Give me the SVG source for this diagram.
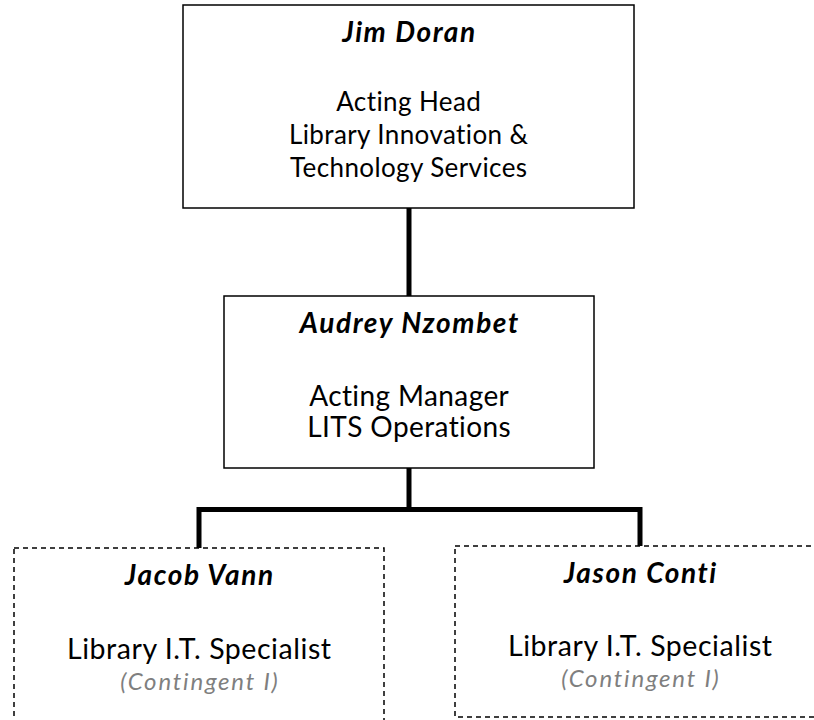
<svg xmlns="http://www.w3.org/2000/svg" width="814" height="720" viewBox="0 0 814 720">
<style>
.box{fill:#fff;stroke:#000;stroke-width:1.5}
.dash{fill:#fff;stroke:#000;stroke-width:1.5;stroke-dasharray:5 4}
.conn{fill:none;stroke:#000;stroke-width:5;stroke-linejoin:miter}
text{font-family:Lato,"Open Sans","Liberation Sans",sans-serif;text-anchor:middle;fill:#000}
.name{font-weight:bold;font-style:italic;font-size:28px;letter-spacing:1.6px}
.t1{font-size:26px;letter-spacing:0.4px}
.t2{font-size:28px;letter-spacing:0.4px}
.t3{font-size:28.5px;letter-spacing:0.55px}
.sub{font-style:italic;fill:#7f7f7f;font-size:24px;letter-spacing:1.8px}
</style>
<rect width="814" height="720" fill="#fff"/>
<g id="connectors">
<line class="conn" x1="409" y1="208" x2="409" y2="296"/>
<polyline class="conn" points="199,548 199,509.5 640,509.5 640,546"/>
<line class="conn" x1="409" y1="468" x2="409" y2="509"/>
</g>
<g id="jim-doran">
<rect class="box" x="183" y="5" width="451" height="203"/>
<text class="name" x="409.5" y="42">Jim Doran</text>
<text class="t1" x="408.7" y="111">Acting Head</text>
<text class="t1" x="408.7" y="144">Library Innovation &amp;</text>
<text class="t1" x="408.7" y="177">Technology Services</text>
</g>
<g id="audrey-nzombet">
<rect class="box" x="224" y="296" width="370" height="172"/>
<text class="name" x="409.8" y="333">Audrey Nzombet</text>
<text class="t2" x="409.2" y="406">Acting Manager</text>
<text class="t2" x="409.2" y="437">LITS Operations</text>
</g>
<g id="jacob-vann">
<rect class="dash" x="14" y="548" width="370" height="200"/>
<text class="name" x="199.8" y="585">Jacob Vann</text>
<text class="t3" x="199.3" y="659">Library I.T. Specialist</text>
<text class="sub" x="199.9" y="690">(Contingent I)</text>
</g>
<g id="jason-conti">
<rect class="dash" x="455" y="546" width="400" height="171"/>
<text class="name" x="640.8" y="583">Jason Conti</text>
<text class="t3" x="640.3" y="656">Library I.T. Specialist</text>
<text class="sub" x="640.9" y="687">(Contingent I)</text>
</g>
</svg>
